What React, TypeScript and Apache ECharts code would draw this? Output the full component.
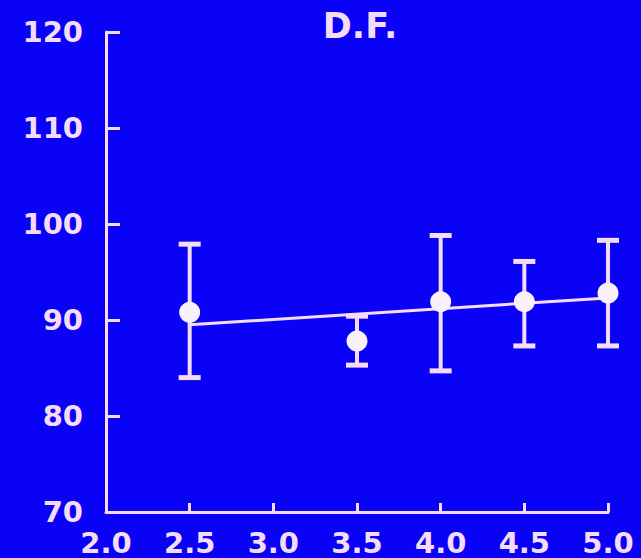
import React, { useEffect, useRef } from "react";
import * as echarts from "echarts";

const xValues = [2.5, 3.5, 4.0, 4.5, 5.0];
const meanValues = [90.8, 87.8, 91.9, 91.9, 92.8];
const lowValues = [84.0, 85.3, 84.7, 87.3, 87.3];
const highValues = [97.9, 90.4, 98.8, 96.1, 98.3];
const fitX = [2.5, 5.0];
const fitY = [89.5, 92.3];
const title = "D.F.";

const BG = "#0a02f6";
const FG = "#f4dcf6";
const FONT = "DejaVu Sans";

export default function App() {
  const ref = useRef<HTMLDivElement>(null);
  useEffect(() => {
    if (!ref.current) return;
    const chart = echarts.init(ref.current, undefined, { renderer: "svg" });
    const errData = xValues.map((x, i) => [x, lowValues[i], highValues[i]]);
    chart.setOption({
      animation: false,
      backgroundColor: BG,
      title: {
        text: title,
        left: 355,
        top: 3,
        textAlign: "center",
        textStyle: { color: FG, fontFamily: FONT, fontWeight: "bold", fontSize: 35 },
      },
      grid: { left: 106, right: 33, top: 32, bottom: 46 },
      xAxis: {
        type: "value",
        min: 2,
        max: 5,
        interval: 0.5,
        axisLine: { show: true, lineStyle: { color: FG, width: 3 } },
        axisTick: { show: true, inside: false, length: -9, lineStyle: { color: FG, width: 3 } },
        axisLabel: {
          color: FG,
          fontFamily: FONT,
          fontWeight: "bold",
          fontSize: 29,
          margin: 16,
          formatter: (v: number) => v.toFixed(1),
        },
        splitLine: { show: false },
      },
      yAxis: {
        type: "value",
        min: 70,
        max: 120,
        interval: 10,
        axisLine: { show: true, lineStyle: { color: FG, width: 3 } },
        axisTick: { show: true, inside: false, length: -14, lineStyle: { color: FG, width: 3 } },
        axisLabel: {
          color: FG,
          fontFamily: FONT,
          fontWeight: "bold",
          fontSize: 29,
          margin: 23,
        },
        splitLine: { show: false },
      },
      series: [
        {
          type: "line",
          data: fitX.map((x, i) => [x, fitY[i]]),
          symbol: "none",
          lineStyle: { color: FG, width: 3 },
          z: 2,
        },
        {
          type: "custom",
          data: errData,
          z: 3,
          renderItem: (params: any, api: any) => {
            const x = api.value(0);
            const lo = api.coord([x, api.value(1)]);
            const hi = api.coord([x, api.value(2)]);
            const hw = 11;
            const style = { stroke: FG, lineWidth: 4 };
            return {
              type: "group",
              children: [
                { type: "line", shape: { x1: lo[0], y1: lo[1], x2: hi[0], y2: hi[1] }, style },
                { type: "line", shape: { x1: lo[0] - hw, y1: lo[1], x2: lo[0] + hw, y2: lo[1] }, style: { stroke: FG, lineWidth: 5 } },
                { type: "line", shape: { x1: hi[0] - hw, y1: hi[1], x2: hi[0] + hw, y2: hi[1] }, style: { stroke: FG, lineWidth: 5 } },
              ],
            };
          },
        },
        {
          type: "scatter",
          data: xValues.map((x, i) => [x, meanValues[i]]),
          symbol: "circle",
          symbolSize: 21,
          itemStyle: { color: "#f8f0fa", opacity: 1 },
          z: 4,
        },
      ],
    });
    return () => chart.dispose();
  }, []);
  return (
    <div
      ref={ref}
      style={{ position: "fixed", left: 0, top: 0, width: 641, height: 558, background: BG }}
    />
  );
}
